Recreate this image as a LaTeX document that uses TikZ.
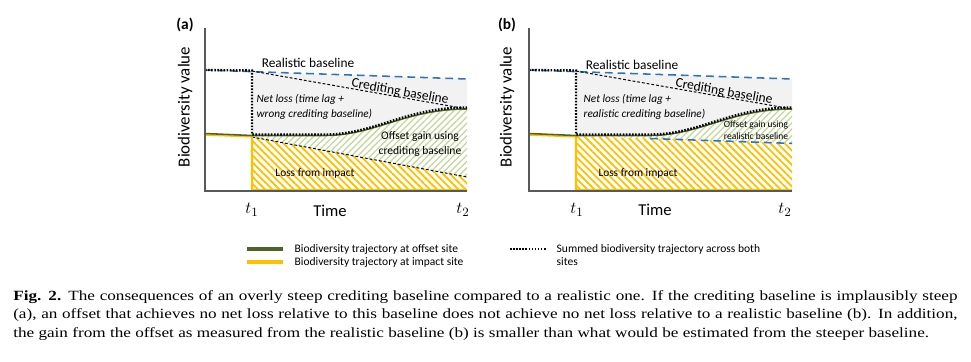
\documentclass[tikz,border=0pt]{standalone}
\usepackage{fontspec}
\setmainfont{Liberation Serif}
\setsansfont{Carlito}
\newfontfamily\capfont[FakeStretch=1.22]{Liberation Serif}
\usetikzlibrary{patterns.meta}
\definecolor{bdblue}{HTML}{2E75B6}
\definecolor{bdolive}{HTML}{4F6228}
\definecolor{bdgold}{HTML}{FFC000}
\definecolor{bdhatch}{HTML}{C3D69B}
\definecolor{bdfill}{HTML}{F2F2F2}
\definecolor{bdaxis}{HTML}{595959}
\tikzset{
  realbase/.style={bdblue, line width=1.1pt, dash pattern=on 5.5pt off 3.5pt},
  credbase/.style={black, line width=0.7pt, dash pattern=on 2pt off 1.4pt},
  summed/.style={black, line width=1.7pt, dash pattern=on 1.1pt off 1.1pt},
  offsetline/.style={bdolive, line width=1.1pt},
  impactline/.style={bdgold, line width=1.5pt},
  axisline/.style={bdaxis, line width=1.2pt},
  gainhatch/.style={pattern={Lines[angle=45,distance=3.2pt,line width=0.9pt]}, pattern color=bdhatch},
  losshatch/.style={pattern={Lines[angle=-45,distance=3.6pt,line width=1.3pt]}, pattern color=bdgold},
  fs/.style={font=\sffamily\fontsize{#1}{#1}\selectfont},
  fsit/.style={font=\sffamily\itshape\fontsize{#1}{#1}\selectfont},
  fsbf/.style={font=\sffamily\bfseries\fontsize{#1}{#1}\selectfont},
}
\newcommand{\capline}[1]{\makebox[23.6cm][s]{#1}}

\begin{document}
\begin{tikzpicture}[
  x=0.025cm, y=0.025cm,
  font=\sffamily,
  inner sep=1pt,
]
\useasboundingbox (0,0) rectangle (971,-361);

% ---------- (a) steep crediting baseline ----------
\begin{scope}[shift={(205,-191)}]
  \fill[bdfill] (47,119.4) -- (262,112) -- (262,82) .. controls (200,82) and (170,55) .. (120,55) -- (47,55) -- cycle;
  \fill[gainhatch] (47,55) -- (120,55) .. controls (170,55) and (200,82) .. (262,82) -- (262,14) -- (47,54) -- cycle;
  \fill[losshatch] (47,54) -- (262,14) -- (262,0) -- (47,0) -- cycle;

  \draw[realbase] (0,121) -- (262,112);
  \draw[credbase] (47,120) -- (262,82);
  \draw[credbase] (47,54) -- (262,14);
  \draw[impactline] (0,56.3) -- (47,54.5) -- (47,0.8) -- (262,0.8);
  \draw[offsetline] (0,57.5) -- (47,55.5) -- (120,55.5) .. controls (170,55.5) and (200,82) .. (262,82);
  \draw[summed] (0,121) -- (47,120.5) -- (47,56.5) -- (120,56.5) .. controls (170,56.5) and (200,83.5) .. (262,83.5);
  \draw[axisline] (0,163) -- (0,0) -- (262,0);

  \node[fsbf=11] (labA) at (-20,166) {(a)};
  \node[fs=12, rotate=90] (yA) at (-20,84) {Biodiversity value};
  \node[fs=9.5] (realA) at (103,128) {Realistic baseline};
  \node[fs=9.6, rotate=-10] (credA) at (195,99) {Crediting baseline};
  \node[fsit=8, anchor=west, align=left] (netA) at (50,84) {Net loss (time lag +\\[2.5pt]wrong crediting baseline)};
  \node[fs=8.2, align=center] (gainA) at (215,47) {Offset gain using\\[2.5pt]crediting baseline};
  \node[fs=8.1] (lossA) at (110,18) {Loss from impact};
  \node[fs=11.8] (timeA) at (125,-20) {Time};
  \node[font=\fontsize{13}{13}\selectfont] (t1A) at (47,-19) {$t_1$};
  \node[font=\fontsize{13}{13}\selectfont] (t2A) at (258,-19) {$t_2$};
\end{scope}

% ---------- (b) realistic baseline ----------
\begin{scope}[shift={(529,-191)}]
  \fill[bdfill] (47,119.4) -- (263,112) -- (263,82) .. controls (201,82) and (171,55) .. (121,55) -- (47,55) -- cycle;
  \fill[gainhatch] (47,55) -- (121,55) .. controls (171,55) and (201,82) .. (263,82) -- (263,47.6) -- cycle;
  \fill[losshatch] (47,55) -- (263,47.6) -- (263,0) -- (47,0) -- cycle;

  \draw[realbase] (0,121) -- (263,112);
  \draw[credbase] (47,120) -- (263,82);
  \draw[realbase] (121,52.5) -- (263,47.6);
  \draw[impactline] (0,56.3) -- (47,54.5) -- (47,0.8) -- (263,0.8);
  \draw[offsetline] (0,57.5) -- (47,55.5) -- (121,55.5) .. controls (171,55.5) and (201,82) .. (263,82);
  \draw[summed] (0,121) -- (47,120.5) -- (47,56.5) -- (121,56.5) .. controls (171,56.5) and (201,83.5) .. (263,83.5);
  \draw[axisline] (0,163) -- (0,0) -- (263,0);

  \node[fsbf=11] (labB) at (-22,166) {(b)};
  \node[fs=12, rotate=90] (yB) at (-22,84) {Biodiversity value};
  \node[fs=9.5] (realB) at (103,126) {Realistic baseline};
  \node[fs=9.6, rotate=-10] (credB) at (195,99) {Crediting baseline};
  \node[fsit=8, anchor=west, align=left] (netB) at (53,84) {Net loss (time lag +\\[2.5pt]realistic crediting baseline)};
  \node[fs=6.8, align=center] (gainB) at (227,60.5) {Offset gain using\\[2pt]realistic baseline};
  \node[fs=8.1] (lossB) at (109,18) {Loss from impact};
  \node[fs=11.8] (timeB) at (126,-19) {Time};
  \node[font=\fontsize{13}{13}\selectfont] (t1B) at (48,-19) {$t_1$};
  \node[font=\fontsize{13}{13}\selectfont] (t2B) at (256,-19) {$t_2$};
\end{scope}

% ---------- legend ----------
\draw[bdolive, line width=2.2pt] (247,-249) -- (283,-249);
\draw[bdgold, line width=2.2pt] (247,-262) -- (283,-262);
\draw[summed] (510,-249) -- (547,-249);
\node[fs=8.2, anchor=west] (legOffset) at (293,-249) {Biodiversity trajectory at offset site};
\node[fs=8.2, anchor=west] (legImpact) at (293,-262) {Biodiversity trajectory at impact site};
\node[fs=8.2, anchor=west] (legSum1) at (555,-249) {Summed biodiversity trajectory across both};
\node[fs=8.2, anchor=west] (legSum2) at (555,-262) {sites};

% ---------- caption ----------
\node[font=\capfont\fontsize{10}{12}\selectfont, anchor=base west, inner sep=0pt] (cap1) at (13,-300)
  {\capline{\textbf{Fig. 2.} The consequences of an overly steep crediting baseline compared to a realistic one. If the crediting baseline is implausibly steep}};
\node[font=\capfont\fontsize{10}{12}\selectfont, anchor=base west, inner sep=0pt] (cap2) at (13,-318.5)
  {\capline{(a), an offset that achieves no net loss relative to this baseline does not achieve no net loss relative to a realistic baseline (b). In addition,}};
\node[font=\capfont\fontsize{10}{12}\selectfont, anchor=base west, inner sep=0pt] (cap3) at (13,-337)
  {the gain from the offset as measured from the realistic baseline (b) is smaller than what would be estimated from the steeper baseline.};
\end{tikzpicture}
\end{document}
